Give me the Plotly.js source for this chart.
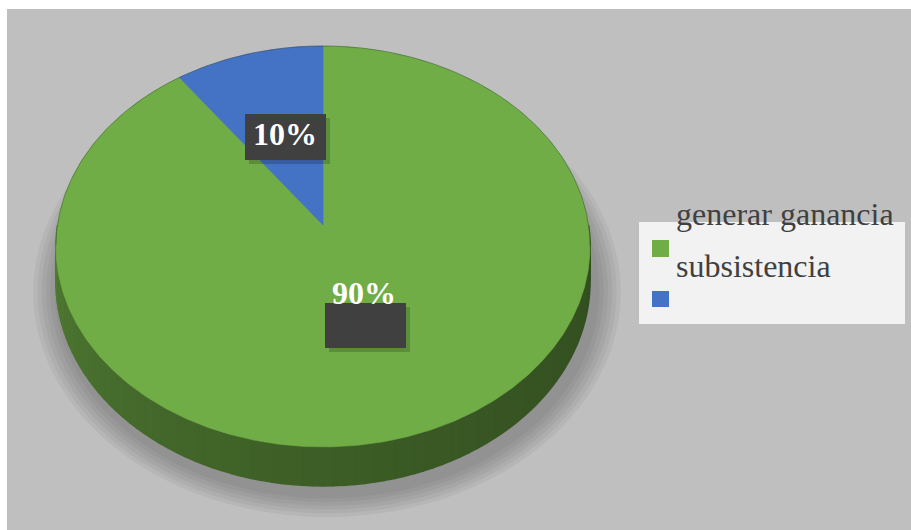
<!DOCTYPE html>
<html>
<head>
<meta charset="utf-8">
<script src="https://cdn.plot.ly/plotly-3.0.1.min.js"></script>
<style>
  html, body { margin: 0; padding: 0; background: #ffffff; }
  #chart { width: 911px; height: 530px; }
</style>
</head>
<body>
<div id="chart"></div>
<script>
// ---- data ----
const categories = ['generar ganancia', 'subsistencia'];
const values = [90, 10];

// ---- style ----
const sliceColors = ['#70ad47', '#4472c4'];
const BG = '#bfbfbf';
const FONT_SERIF = '"Liberation Serif", "Times New Roman", serif';

// perspective pie geometry (layout units = pixels)
const cx = 323, apexY = 225;     // projected centre of the disc
const F = 265.5, FS = 198.2, C = 0.107, H = 34.8;

function pt(deg, lower) {
  const r = deg * Math.PI / 180;
  const u = Math.sin(r), v = Math.cos(r);
  const z = 1 + C * v;
  return [cx + F * u / z, apexY - (FS * v - (lower ? H : 0)) / z];
}
function hexToRgb(h) {
  return [parseInt(h.substr(1, 2), 16), parseInt(h.substr(3, 2), 16), parseInt(h.substr(5, 2), 16)];
}
function shade(hex, f) {
  const c = hexToRgb(hex).map(v => Math.max(0, Math.min(255, Math.round(v * f))));
  return 'rgb(' + c.join(',') + ')';
}

const total = values.reduce((a, b) => a + b, 0);
const slices = [];
let acc = 0;
values.forEach((v, i) => {
  const a0 = acc / total * 360;
  acc += v;
  const a1 = acc / total * 360;
  slices.push({ a0, a1, color: sliceColors[i], name: categories[i], value: v });
});

const traces = [];

// soft shadow
for (let k = 0; k < 6; k++) {
  const xs = [], ys = [];
  for (let d = 0; d <= 360; d += 3) {
    const p = pt(d, true);
    const dx = p[0] - cx, dy = p[1] - (apexY + 30);
    const s = 1 + (2 + k * 1.6) / 100;
    xs.push(cx + 4 + dx * s);
    ys.push(apexY + 30 + 8 + dy * s);
  }
  traces.push({ type: 'scatter', mode: 'lines', x: xs, y: ys, fill: 'toself',
    fillcolor: 'rgba(70,70,70,0.07)', line: { width: 0 }, hoverinfo: 'skip', showlegend: false });
}

// front side (segments drawn left→right edge with overlapping strokes to hide seams)
const STEP = 2;
slices.forEach(s => {
  const lo = Math.max(s.a0, 90), hi = Math.min(s.a1, 270);
  for (let d = lo; d < hi; d += STEP) {
    const e = Math.min(d + STEP, hi);
    const t = ((d + e) / 2 - 90) / 180;
    const f = 0.45 + 0.1 * t + 0.17 * t * t;
    const col = shade(s.color, f);
    const xs = [], ys = [];
    for (let a = d; a <= e + 1e-9; a += 0.5) { const p = pt(a, false); xs.push(p[0]); ys.push(p[1]); }
    for (let a = e; a >= d - 1e-9; a -= 0.5) { const p = pt(a, true); xs.push(p[0]); ys.push(p[1]); }
    traces.push({ type: 'scatter', mode: 'lines', x: xs, y: ys, fill: 'toself',
      fillcolor: col, line: { width: 1.6, color: col }, hoverinfo: 'skip', showlegend: false });
  }
});

// top faces
slices.forEach(s => {
  const xs = [cx], ys = [apexY];
  for (let a = s.a0; a <= s.a1 + 1e-9; a += 0.5) { const p = pt(a, false); xs.push(p[0]); ys.push(p[1]); }
  xs.push(cx); ys.push(apexY);
  traces.push({ type: 'scatter', mode: 'lines', x: xs, y: ys, fill: 'toself',
    fillcolor: s.color, line: { width: 0.6, color: s.color }, name: s.name,
    hoverinfo: 'name', showlegend: false });
});

// faint rim on back edge
{
  const xs = [], ys = [];
  for (let a = -96; a <= 96; a += 1) { const p = pt(a, false); xs.push(p[0]); ys.push(p[1]); }
  traces.push({ type: 'scatter', mode: 'lines', x: xs, y: ys,
    line: { width: 1, color: 'rgba(30,50,30,0.35)' }, hoverinfo: 'skip', showlegend: false });
}

// ---- annotations & shapes ----
const pct = values.map(v => Math.round(v / total * 100) + '%');

const shapes = [
  { type: 'rect', xref: 'x', yref: 'y', x0: 7, x1: 911, y0: 9, y1: 530, fillcolor: BG, line: { width: 0 }, layer: 'below' },
  // label boxes (with small drop shadow)
  { type: 'rect', xref: 'x', yref: 'y', x0: 249, x1: 330, y0: 118, y1: 164, fillcolor: 'rgba(0,0,0,0.18)', line: { width: 0 } },
  { type: 'rect', xref: 'x', yref: 'y', x0: 245, x1: 326, y0: 114, y1: 160, fillcolor: '#404040', line: { width: 0 } },
  { type: 'rect', xref: 'x', yref: 'y', x0: 329, x1: 410, y0: 307, y1: 352, fillcolor: 'rgba(0,0,0,0.18)', line: { width: 0 } },
  { type: 'rect', xref: 'x', yref: 'y', x0: 325, x1: 406, y0: 303, y1: 348, fillcolor: '#404040', line: { width: 0 } },
  // legend box
  { type: 'rect', xref: 'x', yref: 'y', x0: 639, x1: 905, y0: 222, y1: 324, fillcolor: '#f2f2f2', line: { width: 0 } },
  { type: 'rect', xref: 'x', yref: 'y', x0: 652, x1: 669, y0: 240, y1: 257, fillcolor: sliceColors[0], line: { width: 0 } },
  { type: 'rect', xref: 'x', yref: 'y', x0: 652, x1: 669, y0: 291, y1: 307, fillcolor: sliceColors[1], line: { width: 0 } }
];

const annotations = [
  { x: 285, y: 134, xref: 'x', yref: 'y', text: '<b>' + pct[1] + '</b>', showarrow: false,
    font: { family: FONT_SERIF, size: 32, color: '#ffffff' }, xanchor: 'center', yanchor: 'middle' },
  { x: 364, y: 293, xref: 'x', yref: 'y', text: '<b>' + pct[0] + '</b>', showarrow: false,
    font: { family: FONT_SERIF, size: 32, color: '#ffffff' }, xanchor: 'center', yanchor: 'middle' },
  { x: 674, y: 214, xref: 'x', yref: 'y', text: categories[0], showarrow: false,
    font: { family: FONT_SERIF, size: 32, color: '#404040' }, xanchor: 'left', yanchor: 'middle' },
  { x: 674, y: 266, xref: 'x', yref: 'y', text: categories[1], showarrow: false,
    font: { family: FONT_SERIF, size: 32, color: '#404040' }, xanchor: 'left', yanchor: 'middle' }
];

const layout = {
  width: 911, height: 530,
  margin: { l: 0, r: 0, t: 0, b: 0, pad: 0 },
  paper_bgcolor: '#ffffff', plot_bgcolor: 'rgba(0,0,0,0)',
  showlegend: false,
  xaxis: { range: [0, 911], visible: false, fixedrange: true },
  yaxis: { range: [530, 0], visible: false, fixedrange: true },
  shapes, annotations
};

Plotly.newPlot('chart', traces, layout, { displayModeBar: false, staticPlot: true });
</script>
</body>
</html>
